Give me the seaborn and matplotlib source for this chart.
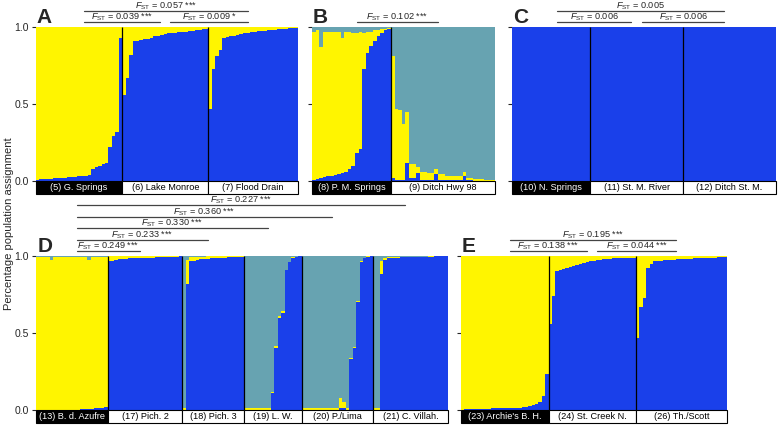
import numpy as np
import pandas as pd
import matplotlib.pyplot as plt
import seaborn as sns
from matplotlib.patches import Rectangle

sns.set_style('ticks')
plt.rcParams['font.family'] = ['Liberation Sans', 'DejaVu Sans']
plt.rcParams['mathtext.fontset'] = 'custom'
plt.rcParams['mathtext.rm'] = 'Liberation Sans'
plt.rcParams['mathtext.it'] = 'Liberation Sans:italic'

BLUE = '#1a40ea'
YELLOW = '#fff500'
TEAL = '#67a3b1'

# assignment per individual: blue cluster and teal cluster, yellow is the rest
g_springs_blue = [0.010, 0.012, 0.013, 0.015, 0.016, 0.018, 0.019, 0.021, 0.022, 0.024, 0.026, 0.028,
                  0.030, 0.033, 0.036, 0.042, 0.080, 0.090, 0.100, 0.110, 0.120, 0.220, 0.290, 0.320, 0.930]
lake_monroe_blue = [0.56, 0.67, 0.82, 0.91, 0.91, 0.915, 0.92, 0.925, 0.93, 0.94, 0.945, 0.95, 0.955,
                    0.958, 0.96, 0.962, 0.965, 0.968, 0.97, 0.972, 0.975, 0.978, 0.982, 0.986, 0.99]
flood_drain_blue = [0.47, 0.73, 0.81, 0.85, 0.93, 0.935, 0.94, 0.945, 0.95, 0.955, 0.96, 0.963, 0.966,
                    0.969, 0.972, 0.975, 0.977, 0.979, 0.981, 0.983, 0.985, 0.987, 0.989, 0.991, 0.993, 0.995]

pm_springs_blue = [0.01, 0.015, 0.02, 0.025, 0.03, 0.035, 0.04, 0.045, 0.05, 0.06, 0.08, 0.10, 0.18,
                   0.21, 0.73, 0.83, 0.88, 0.91, 0.94, 0.96, 0.98, 0.99]
pm_springs_teal = [0.03, 0.02, 0.13, 0.03, 0.03, 0.03, 0.03, 0.03, 0.07, 0.03, 0.03, 0.04, 0.04,
                   0.03, 0.04, 0.03, 0.03, 0.02, 0.02, 0.015, 0.01, 0.005]
ditch_hwy_blue = [0.02, 0.01, 0.01, 0.01, 0.12, 0.02, 0.02, 0.05, 0.01, 0.01, 0.01, 0.01, 0.045, 0.01,
                  0.01, 0.01, 0.01, 0.01, 0.01, 0.01, 0.035, 0.005, 0.005, 0.003, 0, 0, 0, 0, 0]
ditch_hwy_teal = [0.19, 0.53, 0.54, 0.63, 0.55, 0.89, 0.89, 0.91, 0.94, 0.94, 0.95, 0.95, 0.925, 0.955,
                  0.955, 0.965, 0.965, 0.965, 0.965, 0.965, 0.94, 0.98, 0.98, 0.985, 0.985, 0.988,
                  0.99, 0.992, 0.995]

n_springs_blue = [1.0] * 22
st_m_river_blue = [1.0] * 26
ditch_st_m_blue = [1.0] * 26

azufre_blue = [0, 0, 0, 0, 0, 0, 0, 0, 0, 0, 0, 0, 0.002, 0.004, 0.005, 0.006, 0.008, 0.01, 0.012,
               0.015, 0.02]
azufre_teal = [0.005, 0.005, 0.005, 0.005, 0.028, 0.005, 0.005, 0.005, 0.005, 0.005, 0.005, 0.005,
               0.005, 0.005, 0.005, 0.025, 0.005, 0.005, 0.005, 0.005, 0.005]
pich2_blue = [0.965, 0.97, 0.975, 0.978, 0.98, 0.982, 0.984, 0.985, 0.986, 0.987, 0.988, 0.989, 0.99,
              0.99, 0.991, 0.992, 0.993, 0.993, 0.994, 0.995, 0.996, 0.997]
pich2_teal = [0.003] * 22
pich3_blue = [0, 0.82, 0.965, 0.97, 0.975, 0.978, 0.98, 0.982, 0.984, 0.986, 0.988, 0.99, 0.99,
              0.992, 0.993, 0.994, 0.995, 0.996]
pich3_teal = [0.99, 0.025, 0.005, 0.005, 0.004, 0.004, 0.004, 0.003, 0.003, 0.003, 0.003, 0.003,
              0.003, 0.003, 0.003, 0.003, 0.003, 0.003]
lw_blue = [0, 0, 0, 0, 0, 0, 0, 0, 0.11, 0.40, 0.60, 0.63, 0.91, 0.96, 0.985, 0.995, 0.997]
lw_teal = [0.99, 0.99, 0.99, 0.99, 0.99, 0.99, 0.99, 0.99, 0.88, 0.585, 0.39, 0.36, 0.09, 0.04,
           0.005, 0.005, 0.003]
lima_blue = [0, 0, 0, 0, 0, 0, 0, 0, 0, 0, 0, 0.01, 0.01, 0, 0.33, 0.40, 0.70, 0.96, 0.985, 0.995, 0.997]
lima_teal = [0.99, 0.99, 0.99, 0.99, 0.99, 0.99, 0.99, 0.99, 0.99, 0.99, 0.99, 0.925, 0.95, 0.99,
             0.66, 0.59, 0.29, 0.035, 0.01, 0.003, 0.003]
villah_blue = [0, 0, 0.88, 0.975, 0.985, 0.987, 0.989, 0.99, 0.991, 0.992, 0.993, 0.993, 0.994, 0.994,
               0.995, 0.995, 0.996, 0.996, 0.997, 0.997, 0.998, 0.998]
villah_teal = [0.99, 0.99, 0.03, 0.01, 0.008, 0.007, 0.006, 0.006, 0.005, 0.005, 0.005, 0.005, 0.004,
               0.004, 0.004, 0.004, 0.003, 0.003, 0.002, 0.002, 0.002, 0.002]

archies_blue = [0.003, 0.004, 0.005, 0.006, 0.006, 0.007, 0.008, 0.008, 0.009, 0.01, 0.01, 0.011, 0.012,
                0.012, 0.013, 0.014, 0.015, 0.016, 0.018, 0.02, 0.025, 0.03, 0.04, 0.055, 0.09, 0.235]
st_creek_blue = [0.56, 0.74, 0.90, 0.91, 0.915, 0.92, 0.93, 0.935, 0.94, 0.95, 0.955, 0.96, 0.965,
                 0.97, 0.975, 0.977, 0.979, 0.981, 0.983, 0.985, 0.986, 0.987, 0.988, 0.989, 0.99, 0.99]
th_scott_blue = [0.47, 0.67, 0.73, 0.92, 0.95, 0.965, 0.967, 0.969, 0.971, 0.973, 0.975, 0.977, 0.979,
                 0.98, 0.981, 0.982, 0.983, 0.984, 0.985, 0.986, 0.987, 0.988, 0.989, 0.99, 0.991,
                 0.993, 0.995]

# panels: letter, axes rect, populations, Fst comparisons (pop i, pop j, level, value)
panels = [
    ('A', [0.0463, 0.574, 0.3368, 0.3624],
     [('(5) G. Springs', g_springs_blue, None),
      ('(6) Lake Monroe', lake_monroe_blue, None),
      ('(7) Flood Drain', flood_drain_blue, None)],
     [(0, 1, 0, '0.039 ***'), (1, 2, 0, '0.009 *'), (0, 2, 1, '0.057 ***')], True),
    ('B', [0.401, 0.574, 0.2352, 0.3624],
     [('(8) P. M. Springs', pm_springs_blue, pm_springs_teal),
      ('(9) Ditch Hwy 98', ditch_hwy_blue, ditch_hwy_teal)],
     [(0, 1, 0, '0.102 ***')], False),
    ('C', [0.658, 0.574, 0.3393, 0.3624],
     [('(10) N. Springs', n_springs_blue, None),
      ('(11) St. M. River', st_m_river_blue, None),
      ('(12) Ditch St. M.', ditch_st_m_blue, None)],
     [(0, 1, 0, '0.006'), (1, 2, 0, '0.006'), (0, 2, 1, '0.005')], False),
    ('D', [0.0463, 0.0353, 0.5296, 0.3624],
     [('(13) B. d. Azufre', azufre_blue, azufre_teal),
      ('(17) Pich. 2', pich2_blue, pich2_teal),
      ('(18) Pich. 3', pich3_blue, pich3_teal),
      ('(19) L. W.', lw_blue, lw_teal),
      ('(20) P./Lima', lima_blue, lima_teal),
      ('(21) C. Villah.', villah_blue, villah_teal)],
     [(0, 1, 0, '0.249 ***'), (0, 2, 1, '0.233 ***'), (0, 3, 2, '0.330 ***'),
      (0, 4, 3, '0.360 ***'), (0, 5, 4, '0.227 ***')], True),
    ('E', [0.5925, 0.0353, 0.3419, 0.3624],
     [("(23) Archie's B. H.", archies_blue, None),
      ('(24) St. Creek N.', st_creek_blue, None),
      ('(26) Th./Scott', th_scott_blue, None)],
     [(0, 1, 0, '0.138 ***'), (1, 2, 0, '0.044 ***'), (0, 2, 1, '0.195 ***')], False),
]

fig = plt.figure(figsize=(7.78, 4.25), dpi=100)

for letter, rect, pops, fst, show_labels in panels:
    ax = fig.add_axes(rect)
    frames = []
    for name, blue, teal in pops:
        blue = np.array(blue, dtype=float)
        teal = np.zeros_like(blue) if teal is None else np.array(teal, dtype=float)
        yellow = np.clip(1 - blue - teal, 0, None)
        frames.append(pd.DataFrame({'pop': name, 'blue': blue, 'yellow': yellow, 'teal': teal}))
    df = pd.concat(frames, ignore_index=True)
    df['x'] = np.arange(len(df))
    df['by'] = df['blue'] + df['yellow']
    df['top'] = df['by'] + df['teal']

    for col, c in [('top', TEAL), ('by', YELLOW), ('blue', BLUE)]:
        sns.barplot(data=df, x='x', y=col, native_scale=True, color=c, width=1, saturation=1,
                    errorbar=None, linewidth=0, antialiased=False, ax=ax)

    n = len(df)
    ax.set_xlim(-0.5, n - 0.5)
    ax.set_ylim(0, 1)
    ax.set_xticks([])
    ax.set_xlabel('')
    ax.set_ylabel('')
    ax.set_yticks([0, 0.5, 1.0])
    ax.set_yticklabels(['0.0', '0.5', '1.0'])
    ax.tick_params(axis='y', direction='out', length=3, width=0.8, labelsize=7.5, pad=2,
                   labelleft=show_labels)
    sns.despine(ax=ax, left=True, bottom=True)

    trans = ax.get_xaxis_transform()
    sizes = df.groupby('pop', sort=False).size()
    starts = np.concatenate([[0], np.cumsum(sizes.values)[:-1]]) - 0.5
    centers = starts + sizes.values / 2
    for k, (name, size) in enumerate(sizes.items()):
        first = k == 0
        ax.add_patch(Rectangle((starts[k], -0.085), size, 0.085, transform=trans, clip_on=False,
                               facecolor='black' if first else 'white', edgecolor='black', lw=0.8))
        ax.text(centers[k], -0.044, name, transform=trans, ha='center', va='center', fontsize=6.6,
                color='white' if first else 'black')
        if k > 0:
            ax.vlines(starts[k], 0, 1, color='black', lw=0.9)

    for i, j, level, val in fst:
        x0 = centers[i] + 1.5
        x1 = centers[j] - 1.5
        y = 1.03 + level * 0.075
        ax.plot([x0, x1], [y, y], transform=trans, clip_on=False, color='#444444', lw=0.9)
        ax.text((x0 + x1) / 2, y + 0.016, r'$F_{\mathrm{ST}}$ = ' + val, transform=trans,
                ha='center', va='baseline', fontsize=6.6)

    ax.text(0.003, 1.024, letter, transform=ax.transAxes, ha='left', va='baseline',
            fontsize=15, fontweight='bold')

fig.text(0.011, 0.473, 'Percentage population assignment', rotation=90, ha='center', va='center',
         fontsize=8)

fig.savefig('out.png', dpi=100)
